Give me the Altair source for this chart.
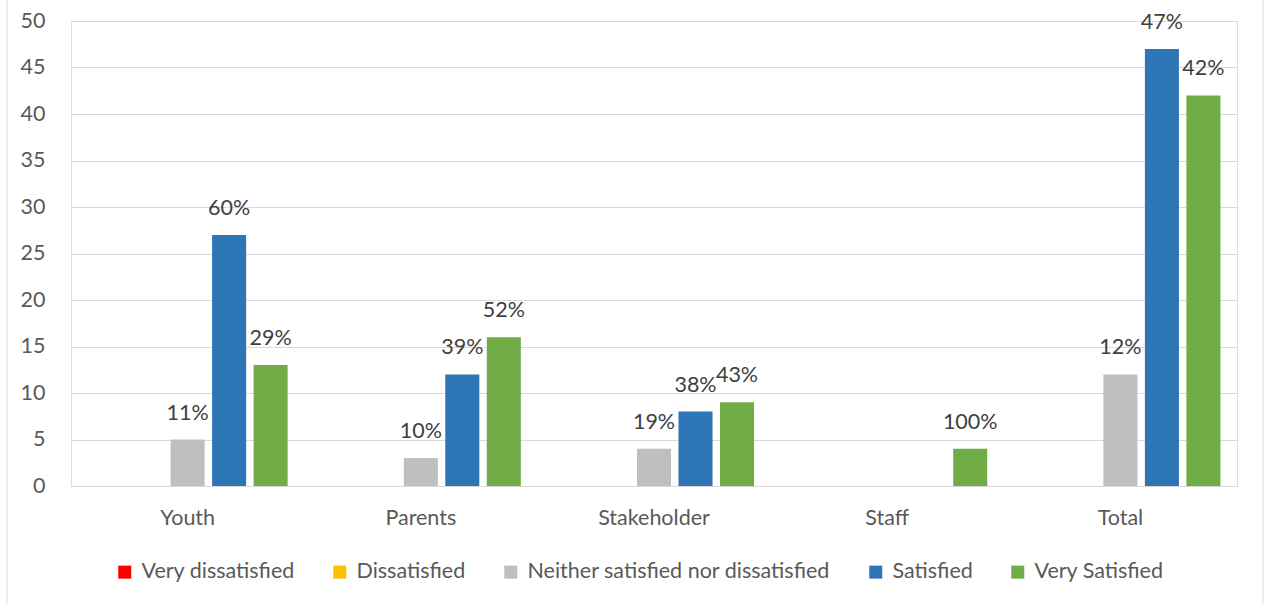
import altair as alt
import pandas as pd

categories = ["Youth", "Parents", "Stakeholder", "Staff", "Total"]
series = ["Very dissatisfied", "Dissatisfied", "Neither satisfied nor dissatisfied",
          "Satisfied", "Very Satisfied"]
colors = ["#FF0000", "#FFC000", "#BFBFBF", "#2E75B6", "#70AD47"]

very_dissatisfied = [0, 0, 0, 0, 0]
dissatisfied = [0, 0, 0, 0, 0]
neither = [5, 3, 4, 0, 12]
satisfied = [27, 12, 8, 0, 47]
very_satisfied = [13, 16, 9, 4, 42]

very_dissatisfied_pct = ["", "", "", "", ""]
dissatisfied_pct = ["", "", "", "", ""]
neither_pct = ["11%", "10%", "19%", "", "12%"]
satisfied_pct = ["60%", "39%", "38%", "", "47%"]
very_satisfied_pct = ["29%", "52%", "43%", "100%", "42%"]

values = [very_dissatisfied, dissatisfied, neither, satisfied, very_satisfied]
pcts = [very_dissatisfied_pct, dissatisfied_pct, neither_pct, satisfied_pct, very_satisfied_pct]

rows = []
for s, vals, ps in zip(series, values, pcts):
    for c, v, p in zip(categories, vals, ps):
        rows.append({"category": c, "series": s, "value": v, "pct": p})
df = pd.DataFrame(rows)

FONT = "Lato"
FS = 21.5

x_enc = alt.X("category:N", sort=categories,
              scale=alt.Scale(paddingInner=0.11, paddingOuter=0.055),
              axis=alt.Axis(title=None, labelAngle=0, labelFontSize=FS, labelColor="#595959",
                            labelPadding=21, ticks=False, domain=True, domainColor="#D9D9D9",
                            domainWidth=1, labelFont=FONT))
xoff_enc = alt.XOffset("series:N", sort=series,
                       scale=alt.Scale(paddingInner=0.18, paddingOuter=0.09))
y_enc = alt.Y("value:Q", scale=alt.Scale(domain=[0, 50], nice=False),
              axis=alt.Axis(title=None, values=list(range(0, 51, 5)), labelFontSize=FS,
                            labelColor="#595959", labelPadding=26, ticks=False, domain=False,
                            grid=True, gridColor="#D9D9D9", gridWidth=1, labelFont=FONT))

base = alt.Chart(df)

bars = base.mark_bar().encode(
    x=x_enc,
    xOffset=xoff_enc,
    y=y_enc,
    color=alt.Color("series:N", sort=series,
                    scale=alt.Scale(domain=series, range=colors),
                    legend=alt.Legend(title=None, orient="none", legendX=43, legendY=540,
                                      direction="horizontal", symbolType="square",
                                      symbolSize=169, symbolStrokeWidth=0,
                                      labelFontSize=FS, labelColor="#595959", labelFont=FONT,
                                      labelLimit=0, columnPadding=34, labelOffset=6)),
)

labels = base.transform_filter("datum.value > 0").mark_text(
    dy=-26, baseline="middle", align="center", fontSize=FS, color="#404040", font=FONT
).encode(
    x=alt.X("category:N", sort=categories),
    xOffset=alt.XOffset("series:N", sort=series),
    y=alt.Y("value:Q"),
    text="pct:N",
)

frame = alt.Chart(pd.DataFrame({"a": [0]})).mark_rect(
    fill=None, stroke="#D9D9D9", strokeWidth=1, clip=False
).encode(
    x=alt.value(-64), x2=alt.value(1192), y=alt.value(-40), y2=alt.value(640)
)

chart = alt.layer(frame, bars, labels).properties(
    width=1166, height=465,
    autosize=alt.AutoSizeParams(type="none"),
    padding={"left": 71, "top": 21, "right": 28, "bottom": 118},
).configure_view(stroke=None).configure(background="white")

chart.save("out.html", embed_options={"renderer": "svg", "actions": False})
